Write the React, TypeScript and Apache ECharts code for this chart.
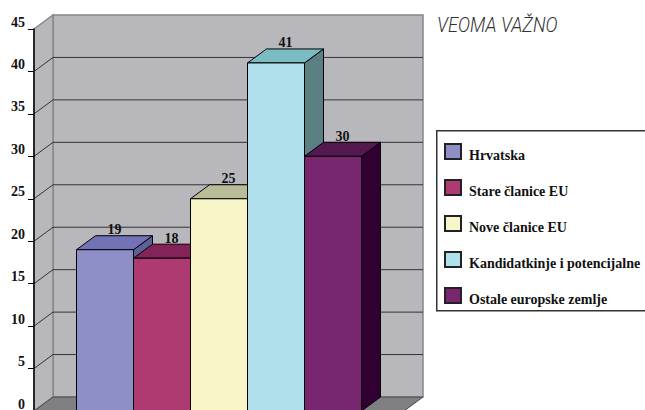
import React, { useEffect, useRef } from "react";
import * as echarts from "echarts";

const categories = ["Hrvatska", "Stare članice EU", "Nove članice EU", "Kandidatkinje i potencijalne", "Ostale europske zemlje"];
const values = [19, 18, 25, 41, 30];
const yTicks = [0, 5, 10, 15, 20, 25, 30, 35, 40, 45];
const frontColors = ["#8f8fc7", "#ae3a72", "#f8f6c8", "#b0e0ec", "#782670"];
const topColors = ["#7272b6", "#842358", "#b8bc98", "#7abcc2", "#541a50"];
const sideColors = ["#5c6098", "#6a1c48", "#a0a080", "#5a8084", "#300030"];
const title = "VEOMA VAŽNO";

const DX = 19;
const DY = -14;
const SERIF = '"Liberation Serif", serif';
const BAR_SHARE = 57 / 370;
const wallColor = "#b8b8bc";
const wallEdge = "#85858a";

function poly(points: number[][], fill: string, stroke: string, lineWidth = 1) {
  return { type: "polygon", shape: { points }, style: { fill, stroke, lineWidth } };
}

function renderWalls(_: any, api: any) {
  const band = api.size([1, 0])[0];
  const cx = api.coord([0, 0])[0];
  const left = cx - band / 2;
  const right = cx + band / 2;
  const y0 = api.coord([0, 0])[1];
  const yMax = api.coord([0, yTicks[yTicks.length - 1]])[1];
  const children: any[] = [
    poly([[left + DX, yMax + DY], [right + DX, yMax + DY], [right + DX, y0 + DY], [left + DX, y0 + DY]], wallColor, wallEdge, 1.5),
    poly([[left, yMax], [left + DX, yMax + DY], [left + DX, y0 + DY], [left, y0]], wallColor, wallEdge, 1.5),
    poly([[left, y0], [left + DX, y0 + DY], [right + DX, y0 + DY], [right, y0]], "#808084", "#4a4a4e", 1),
  ];
  yTicks.slice(1, -1).forEach((t) => {
    const y = api.coord([0, t])[1];
    children.push({
      type: "polyline",
      shape: { points: [[left, y], [left + DX, y + DY], [right + DX, y + DY]] },
      style: { fill: "none", stroke: "#333337", lineWidth: 1 },
    });
  });
  return { type: "group", children };
}

function renderBar(i: number) {
  return (_: any, api: any) => {
    const band = api.size([1, 0])[0];
    const w = band * BAR_SHARE;
    const v = api.value(1);
    const cx = api.coord([0, 0])[0];
    const x0 = cx + (i - categories.length / 2) * w;
    const x1 = x0 + w;
    const yb = api.coord([0, 0])[1];
    const yt = api.coord([0, v])[1];
    return {
      type: "group",
      children: [
        poly([[x1, yt], [x1 + DX, yt + DY], [x1 + DX, yb + DY], [x1, yb]], sideColors[i], "#000"),
        poly([[x0, yt], [x0 + DX, yt + DY], [x1 + DX, yt + DY], [x1, yt]], topColors[i], "#000"),
        poly([[x0, yt], [x1, yt], [x1, yb], [x0, yb]], frontColors[i], "#000"),
        {
          type: "text",
          style: {
            text: String(v),
            x: (x0 + x1) / 2 + DX / 2,
            y: yt + DY + 1,
            align: "center",
            verticalAlign: "bottom",
            font: `bold 14px ${SERIF}`,
            fill: "#111",
          },
        },
      ],
    };
  };
}

export default function App() {
  const ref = useRef<HTMLDivElement>(null);
  useEffect(() => {
    const chart = echarts.init(ref.current!, null, { renderer: "svg" });
    chart.setOption({
      animation: false,
      backgroundColor: "#fff",
      grid: { left: 34, top: 29, width: 370, height: 382, outerBoundsMode: "none", containLabel: false },
      xAxis: { type: "category", data: [""], axisLine: { show: false }, axisTick: { show: false }, axisLabel: { show: false } },
      yAxis: {
        type: "value",
        min: 0,
        max: 45,
        interval: 5,
        splitLine: { show: false },
        axisLine: { show: true, onZero: false, lineStyle: { color: "#000", width: 1.5 } },
        axisTick: { show: true, length: 6, lineStyle: { color: "#000", width: 1 } },
        axisLabel: {
          margin: 9,
          verticalAlign: "bottom",
          formatter: "{v|{value}}",
          rich: { v: { color: "#111", fontFamily: SERIF, fontWeight: "bold", fontSize: 14, lineHeight: 12, padding: [0, 0, 2, 0] } },
        },
        z: 5,
      },
      legend: {
        orient: "vertical",
        left: 444,
        top: 143,
        padding: 0,
        icon: "rect",
        itemWidth: 16,
        itemHeight: 15,
        itemGap: 16.5,
        selectedMode: false,
        data: categories,
        formatter: "{t|{name}}",
        textStyle: {
          rich: {
            t: { color: "#111", fontFamily: SERIF, fontWeight: "bold", fontSize: 14, padding: [8, 0, 0, 3] },
          },
        },
      },
      graphic: [
        { type: "rect", left: 436, top: 130, shape: { width: 230, height: 180 }, style: { fill: "#fff", stroke: "#333", lineWidth: 1.5 }, z: -1 },
        {
          type: "text",
          x: 437,
          y: 15,
          scaleX: 0.87,
          style: { text: title, font: "italic 300 21px Roboto, sans-serif", fill: "#333" },
        },
      ],
      series: [
        { type: "custom", name: "walls", silent: true, clip: false, z: 1, data: [[0, 0]], encode: { x: 0, y: 1 }, renderItem: renderWalls },
        ...categories.map((name, i) => ({
          type: "custom",
          name,
          silent: true,
          clip: false,
          z: 2 + i,
          data: [[0, values[i]]],
          encode: { x: 0, y: 1 },
          itemStyle: { color: frontColors[i], borderColor: "#222", borderWidth: 1 },
          renderItem: renderBar(i),
        })),
      ],
    });
    return () => chart.dispose();
  }, []);
  return <div ref={ref} style={{ position: "absolute", left: 0, top: 0, width: 645, height: 410 }} />;
}
